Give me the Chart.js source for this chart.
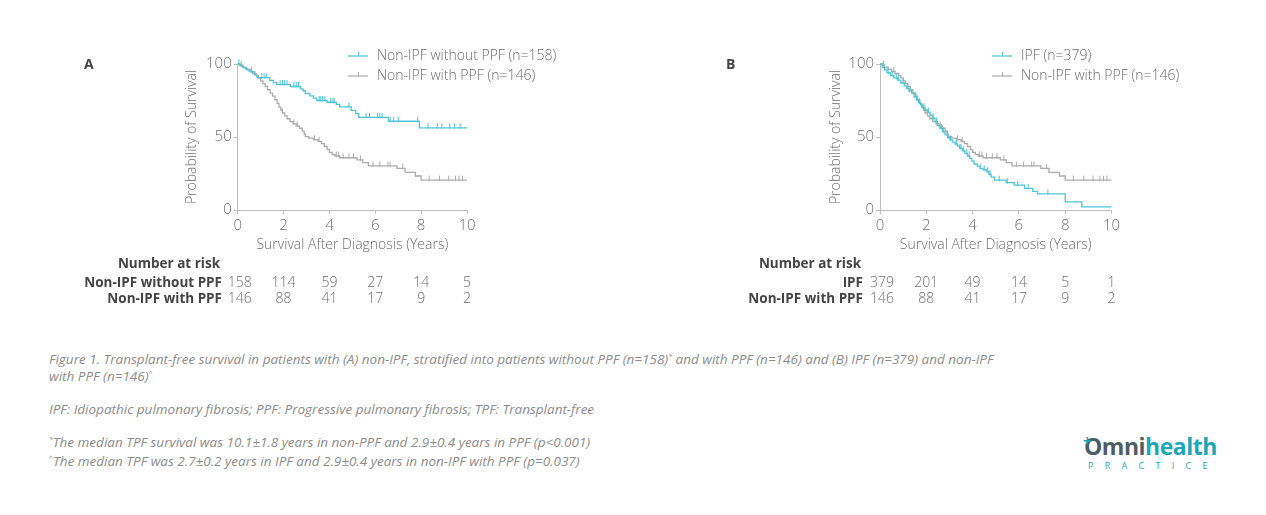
<!DOCTYPE html>
<html>
<head>
<meta charset="utf-8">
<script src="https://cdn.jsdelivr.net/npm/chart.js@4.4.1/dist/chart.umd.min.js"></script>
<style>
  body { margin: 0; background: #fff; width: 1266px; height: 515px; overflow: hidden; position: relative; font-family: "Open Sans", sans-serif; }
  canvas { position: absolute; top: 0; }
  #chartA { left: 0; }
  #chartB { left: 633px; }
  .cap { position: absolute; left: 49px; color: #8c8c8c; font-style: italic; font-weight: 400; font-size: 13.5px; line-height: 17px; white-space: nowrap; }
  .cap sup { font-size: 7px; vertical-align: 5px; line-height: 0; }
  .logo { position: absolute; left: 1084px; top: 433px; width: 134px; }
  .logo .word { font-family: "Open Sans", sans-serif; font-weight: 700; font-size: 23px; letter-spacing: -0.5px; line-height: 26px; color: #4f5e66; position: relative; }
  .logo .word .h { color: #1ea7b8; }
  .logo .word .plus { position: absolute; left: -1px; top: -6px; font-size: 15px; color: #1ea7b8; font-weight: 700; }
  .logo .sub { font-size: 9px; color: #1ea7b8; letter-spacing: 11.3px; margin-left: 4px; line-height: 14px; }
</style>
</head>
<body>
<canvas id="chartA" width="633" height="320"></canvas>
<canvas id="chartB" width="633" height="320"></canvas>

<div class="cap" style="top:351px">Figure 1. Transplant-free survival in patients with (A) non-IPF, stratified into patients without PPF (n=158)<sup>*</sup> and with PPF (n=146) and (B) IPF (n=379) and non-IPF<br>with PPF (n=146)<sup>^</sup></div>
<div class="cap" style="top:401px">IPF: Idiopathic pulmonary fibrosis; PPF: Progressive pulmonary fibrosis; TPF: Transplant-free</div>
<div class="cap" style="top:434px"><sup>*</sup>The median TPF survival was 10.1±1.8 years in non-PPF and 2.9±0.4 years in PPF (p&lt;0.001)</div>
<div class="cap" style="top:453px"><sup>^</sup>The median TPF was 2.7±0.2 years in IPF and 2.9±0.4 years in non-IPF with PPF (p=0.037)</div>

<div class="logo">
  <div class="word"><span class="plus">+</span>Omni<span class="h">health</span></div>
  <div class="sub">PRACTICE</div>
</div>

<script>
// Kaplan-Meier curves (years, % surviving)
const nonPpfTimes = [0, 0.1, 0.25, 0.4, 0.55, 0.75, 0.85, 1.4, 1.55, 1.7, 2.3, 2.75, 2.85, 2.95, 3.15, 3.3, 3.45, 3.9, 4.3, 4.45, 4.95, 5.15, 5.28, 6.58, 7.92, 10];
const nonPpfSurv  = [100, 98.7, 97.3, 96, 94.6, 92.5, 90.6, 88.8, 87.3, 86, 84.6, 83, 81.5, 79.8, 78.2, 76.6, 75, 73.8, 72.4, 70.6, 68.3, 66, 63.5, 60.8, 56.3, 56.3];
const nonPpfCensor = [0.05, 1.05, 1.15, 1.25, 1.85, 1.95, 2.05, 2.15, 2.45, 2.55, 2.65, 3.55, 3.6, 3.7, 3.8, 4.05, 4.15, 4.2, 4.85, 5.6, 5.75, 6.1, 6.2, 6.3, 6.65, 6.8, 7.0, 7.85, 8.3, 8.7, 8.9, 9.25, 9.45, 9.7];

const ppfTimes = [0, 0.1, 0.2, 0.35, 0.5, 0.65, 0.8, 0.9, 1.0, 1.1, 1.2, 1.3, 1.42, 1.52, 1.62, 1.72, 1.8, 1.88, 1.95, 2.05, 2.15, 2.28, 2.42, 2.55, 2.7, 2.82, 2.9, 2.95, 3.1, 3.3, 3.5, 3.65, 3.78, 3.9, 4.0, 4.12, 4.25, 4.45, 5.2, 5.45, 5.7, 6.95, 7.3, 7.75, 8.0, 10];
const ppfSurv  = [100, 99.3, 97.9, 96.5, 95, 93.5, 92, 90.5, 88.5, 86.5, 84.5, 82.5, 80, 78, 75.5, 73, 70.5, 68.5, 66.5, 64.5, 62.5, 60.5, 59, 57.5, 56, 54, 52, 50.2, 49.2, 48.2, 47, 45.5, 43.5, 41.5, 39.5, 38, 37, 35.8, 34.3, 32.5, 30.2, 28.5, 25.8, 23.3, 20.5, 20.5];
const ppfCensor = [0.15, 0.6, 1.3, 1.95, 2.45, 2.6, 3.35, 3.55, 4.3, 4.4, 4.6, 4.85, 5.05, 5.35, 5.9, 6.2, 6.55, 6.65, 7.2, 8.35, 8.8, 9.2, 9.5, 9.65, 9.8];

const ipfTimes = [0, 0.1, 0.2, 0.3, 0.45, 0.6, 0.75, 0.9, 1.05, 1.15, 1.25, 1.37, 1.47, 1.58, 1.66, 1.75, 1.85, 1.95, 2.05, 2.16, 2.25, 2.37, 2.48, 2.59, 2.7, 2.81, 2.92, 3.02, 3.13, 3.24, 3.35, 3.45, 3.56, 3.67, 3.78, 3.88, 3.97, 4.06, 4.2, 4.32, 4.45, 4.6, 4.7, 4.8, 4.95, 5.45, 5.8, 6.25, 6.6, 6.8, 8.0, 8.72, 10];
const ipfSurv  = [100, 97.5, 96, 94, 92, 90.5, 89, 87, 85, 83.3, 81.5, 80, 77.5, 75.3, 73.5, 72, 70, 68.5, 67, 65, 63, 60.5, 58, 56, 53.5, 51.4, 49.5, 48, 46.5, 45.2, 43.8, 42.2, 40.5, 38.8, 37, 35.4, 33.5, 31.5, 30, 28.5, 27.5, 26.3, 24.5, 22.5, 20.5, 18.7, 17, 14.8, 12.8, 11, 5.6, 2.1, 2.1];
const ipfCensor = [0.35, 0.55, 0.7, 0.8, 1.0, 1.2, 1.55, 1.7, 1.9, 2.1, 2.3, 2.45, 2.65, 2.75, 2.9, 3.05, 3.3, 3.45, 3.5, 3.6, 3.75, 3.85, 4.35, 4.5, 4.65, 4.75, 5.15, 5.5, 5.95, 6.4, 7.25];

// number at risk table
const riskTimes = [0, 2, 4, 6, 8, 10];
const riskNonPpf = [158, 114, 59, 27, 14, 5];
const riskPpf = [146, 88, 41, 17, 9, 2];
const riskIpf = [379, 201, 49, 14, 5, 1];

const cyan = '#4ec5d6';
const grey = '#ababab';
const axisGrey = '#bcbcbc';
const textGrey = '#6e6e6e';
const fontFam = '"Open Sans", sans-serif';

function stepAt(times, surv, t) {
    let v = surv[0];
    for (let i = 0; i < times.length; i++) {
        if (times[i] <= t) v = surv[i];
    }
    return v;
}

// censor mark: short vertical tick sitting mostly above the curve
function censorMark(color) {
    const c = document.createElement('canvas');
    c.width = 3; c.height = 11;
    const g = c.getContext('2d');
    g.strokeStyle = color;
    g.lineWidth = 1;
    g.beginPath();
    g.moveTo(1.5, 1);
    g.lineTo(1.5, 6.5);
    g.stroke();
    return c;
}

function curveSets(label, times, surv, censor, color) {
    return [{
        label: label,
        data: times.map((t, i) => ({ x: t, y: surv[i] })),
        stepped: true,
        borderColor: color,
        borderWidth: 1.3,
        pointRadius: 0,
        fill: false,
        clip: 6
    }, {
        label: label + ' censored',
        data: censor.map(t => ({ x: t, y: stepAt(times, surv, t) })),
        showLine: false,
        pointStyle: censorMark(color),
        pointRadius: 3,
        clip: 6
    }];
}

const panelText = {
    id: 'panelText',
    afterDraw(chart, args, o) {
        const ctx = chart.ctx;
        const xs = chart.scales.x;
        const a = chart.chartArea;
        ctx.save();

        ctx.fillStyle = '#444';
        ctx.font = 'bold 14px ' + fontFam;
        ctx.textAlign = 'left';
        ctx.textBaseline = 'middle';
        ctx.fillText(o.letter, o.letterX, 65);

        ctx.fillStyle = textGrey;
        ctx.font = '300 14px ' + fontFam;
        ctx.textAlign = 'center';
        ctx.fillText('Survival After Diagnosis (Years)', (a.left + a.right) / 2, 245);

        ctx.save();
        ctx.translate(o.yTitleX, (a.top + a.bottom) / 2);
        ctx.rotate(-Math.PI / 2);
        ctx.fillText('Probability of Survival', 0, 0);
        ctx.restore();

        // legend
        o.legend.forEach((item, i) => {
            const y = 56 + i * 20;
            ctx.strokeStyle = item.color;
            ctx.lineWidth = 1.2;
            ctx.beginPath();
            ctx.moveTo(o.legendX, y);
            ctx.lineTo(o.legendX + 20, y);
            ctx.stroke();
            ctx.lineWidth = 1;
            ctx.beginPath();
            ctx.moveTo(o.legendX + 10.5, y - 4);
            ctx.lineTo(o.legendX + 10.5, y + 1);
            ctx.stroke();
            ctx.fillStyle = textGrey;
            ctx.textAlign = 'left';
            ctx.fillText(item.text, o.legendX + 29, y);
        });

        // number at risk
        ctx.textAlign = 'right';
        ctx.fillStyle = '#444';
        ctx.font = 'bold 13.5px ' + fontFam;
        ctx.fillText('Number at risk', o.riskX - 2, 264);
        o.risk.forEach((row, r) => {
            const y = 283 + r * 16;
            ctx.textAlign = 'right';
            ctx.fillStyle = '#444';
            ctx.font = 'bold 13.5px ' + fontFam;
            ctx.fillText(row.label, o.riskX, y);
            ctx.textAlign = 'center';
            ctx.fillStyle = textGrey;
            ctx.font = '300 14px ' + fontFam;
            riskTimes.forEach((t, i) => {
                const x = xs.getPixelForValue(t) + (i === 0 ? 2 : 0);
                ctx.fillText(String(row.values[i]), x, y);
            });
        });
        ctx.restore();
    }
};

function makePanel(id, datasets, x0, x10, textOpts) {
    const W = 633, H = 320, yW = 40, xH = 24;
    const tickFont = { family: fontFam, size: 15, weight: '300' };
    return new Chart(document.getElementById(id), {
        type: 'line',
        data: { datasets: datasets },
        plugins: [panelText],
        options: {
            responsive: false,
            animation: false,
            layout: { padding: { left: x0 - yW, right: W - x10, top: 64, bottom: H - 210 - xH } },
            scales: {
                x: {
                    type: 'linear', min: 0, max: 10,
                    afterFit: s => { s.height = xH; },
                    ticks: { stepSize: 2, color: textGrey, font: tickFont, padding: 3, maxRotation: 0 },
                    grid: { drawOnChartArea: false, tickLength: 4, color: axisGrey },
                    border: { color: axisGrey }
                },
                y: {
                    min: 0, max: 100,
                    afterFit: s => { s.width = yW; },
                    ticks: { stepSize: 50, color: textGrey, font: tickFont, padding: 2 },
                    grid: { drawOnChartArea: false, tickLength: 4, color: axisGrey },
                    border: { color: axisGrey }
                }
            },
            plugins: {
                legend: { display: false },
                tooltip: { enabled: false },
                panelText: textOpts
            }
        }
    });
}

makePanel('chartA',
    [...curveSets('Non-IPF without PPF (n=158)', nonPpfTimes, nonPpfSurv, nonPpfCensor, cyan),
     ...curveSets('Non-IPF with PPF (n=146)', ppfTimes, ppfSurv, ppfCensor, grey)],
    237.7, 467, {
        letter: 'A', letterX: 84, yTitleX: 192, legendX: 348, riskX: 222,
        legend: [{ text: 'Non-IPF without PPF (n=158)', color: cyan }, { text: 'Non-IPF with PPF (n=146)', color: grey }],
        risk: [{ label: 'Non-IPF without PPF', values: riskNonPpf }, { label: 'Non-IPF with PPF', values: riskPpf }]
    });

makePanel('chartB',
    [...curveSets('IPF (n=379)', ipfTimes, ipfSurv, ipfCensor, cyan),
     ...curveSets('Non-IPF with PPF (n=146)', ppfTimes, ppfSurv, ppfCensor, grey)],
    880 - 633, 1111.5 - 633, {
        letter: 'B', letterX: 93, yTitleX: 203, legendX: 359, riskX: 230,
        legend: [{ text: 'IPF (n=379)', color: cyan }, { text: 'Non-IPF with PPF (n=146)', color: grey }],
        risk: [{ label: 'IPF', values: riskIpf }, { label: 'Non-IPF with PPF', values: riskPpf }]
    });
</script>
</body>
</html>
